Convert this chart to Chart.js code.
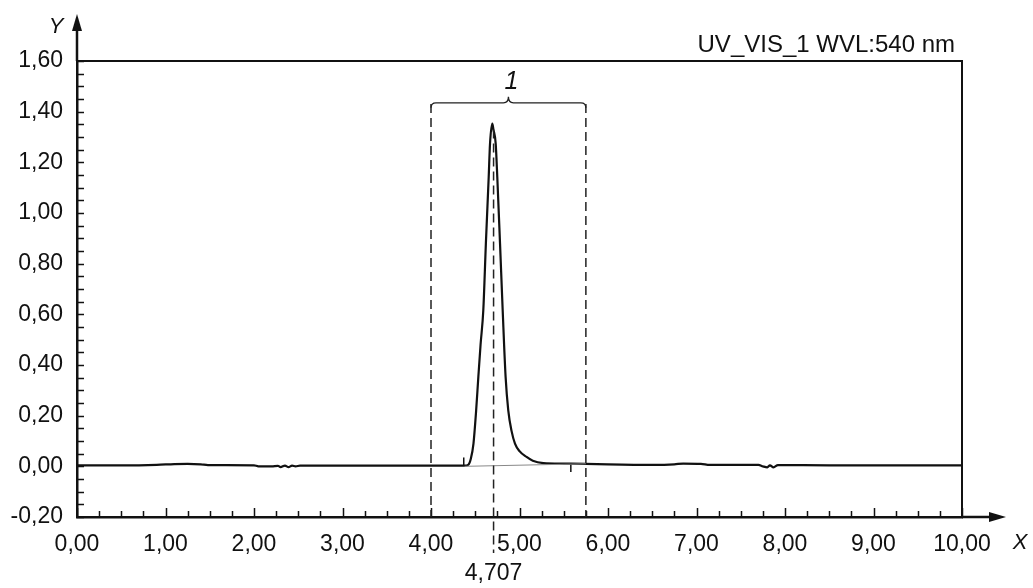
<!DOCTYPE html>
<html>
<head>
<meta charset="utf-8">
<script src="https://cdn.jsdelivr.net/npm/chart.js@4.4.1/dist/chart.umd.min.js"></script>
<style>
  html, body { margin: 0; padding: 0; background: #fff; }
  #wrap { width: 1033px; height: 588px; }
</style>
</head>
<body>
<div id="wrap"><canvas id="chrom"></canvas></div>
<script>
// ─── DATA ────────────────────────────────────────────────────────────────────

const signalX = [0.00, 0.50, 0.90, 1.10, 1.25, 1.40, 1.48, 2.00, 2.05, 2.20, 2.27, 2.30, 2.35, 2.39, 2.43, 2.47, 2.52,
  3.00, 4.00, 4.38, 4.42, 4.45, 4.48, 4.51, 4.535, 4.56, 4.591, 4.62, 4.652, 4.667, 4.693, 4.705, 4.731, 4.749, 4.78,
  4.81, 4.843, 4.873, 4.91, 4.949, 5.00, 5.08, 5.15, 5.27, 5.50, 5.75, 6.00, 6.50, 6.75, 6.85, 7.05, 7.15, 7.70, 7.75,
  7.80, 7.83, 7.87, 7.92, 8.50, 10.00];
const signalY = [0.004, 0.004, 0.006, 0.009, 0.010, 0.008, 0.005, 0.004, 0.000, 0.000, 0.002, -0.003, 0.003, -0.003, 0.003, 0.000, 0.003,
  0.003, 0.003, 0.003, 0.006, 0.030, 0.090, 0.220, 0.353, 0.480, 0.616, 0.879, 1.142, 1.274, 1.353, 1.330, 1.274, 1.142, 0.879,
  0.616, 0.353, 0.221, 0.140, 0.090, 0.060, 0.037, 0.022, 0.013, 0.011, 0.010, 0.008, 0.006, 0.008, 0.011, 0.010, 0.006, 0.006, 0.000,
  -0.004, 0.004, -0.004, 0.005, 0.004, 0.004];

// integration baseline and peak start / end marks
const baseX = [4.38, 5.75];
const baseY = [0.000, 0.010];
const startMarkX = [4.37, 4.37];
const startMarkY = [0.003, 0.035];
const endMarkX = [5.58, 5.58];
const endMarkY = [0.011, -0.022];

const retentionTime = 4.707;
const windowX = [4.00, 5.75];
const peakLabel = '1';
const traceName = 'UV_VIS_1 WVL:540 nm';

const xMin = 0, xMax = 10, xStep = 1;
const yMin = -0.2, yMax = 1.6, yStep = 0.2;

// ─── HELPERS ─────────────────────────────────────────────────────────────────

const FONT = '"Liberation Sans", Arial, sans-serif';
const fmt = v => Number(v).toFixed(2).replace('.', ',');
const zip = (xs, ys) => xs.map((x, i) => ({ x, y: ys[i] }));

const decor = {
  id: 'decor',
  afterDraw(chart) {
    const { ctx, chartArea: a, scales: { x, y } } = chart;
    ctx.save();
    ctx.strokeStyle = '#111';
    ctx.fillStyle = '#111';

    // frame top + right
    ctx.lineWidth = 2;
    ctx.beginPath();
    ctx.moveTo(a.left, a.top); ctx.lineTo(a.right, a.top); ctx.lineTo(a.right, a.bottom);
    ctx.stroke();

    // axis extensions with arrows
    ctx.lineWidth = 2.5;
    ctx.beginPath();
    ctx.moveTo(a.left, a.top); ctx.lineTo(a.left, 22);
    ctx.moveTo(a.right, a.bottom); ctx.lineTo(996, a.bottom);
    ctx.stroke();
    ctx.beginPath();
    ctx.moveTo(a.left, 14); ctx.lineTo(a.left - 5, 31); ctx.lineTo(a.left + 5, 31); ctx.closePath(); ctx.fill();
    ctx.beginPath();
    ctx.moveTo(1006, a.bottom); ctx.lineTo(989, a.bottom - 5); ctx.lineTo(989, a.bottom + 5); ctx.closePath(); ctx.fill();

    // tick marks (inside)
    ctx.lineWidth = 1.5;
    ctx.beginPath();
    for (let v = yMin; v <= yMax + 1e-9; v += 0.05) {
      const py = Math.round(y.getPixelForValue(v)) + 0.5;
      ctx.moveTo(a.left, py); ctx.lineTo(a.left + 7, py);
    }
    for (let v = xMin; v <= xMax + 1e-9; v += 0.25) {
      const px = Math.round(x.getPixelForValue(v)) + 0.5;
      const major = Math.abs(v - Math.round(v)) < 1e-6;
      ctx.moveTo(px, a.bottom); ctx.lineTo(px, a.bottom - (major ? 9 : 6));
    }
    ctx.stroke();

    // dashed window + retention time lines
    ctx.strokeStyle = '#222';
    ctx.lineWidth = 1.5;
    ctx.setLineDash([9, 5]);
    ctx.beginPath();
    const topY = y.getPixelForValue(1.43);
    windowX.forEach(v => {
      const px = x.getPixelForValue(v);
      ctx.moveTo(px, topY); ctx.lineTo(px, a.bottom);
    });
    const rt = x.getPixelForValue(retentionTime);
    ctx.moveTo(rt, y.getPixelForValue(1.33)); ctx.lineTo(rt, 553);
    ctx.stroke();
    ctx.setLineDash([]);

    // bracket over the window
    const bl = x.getPixelForValue(windowX[0]), br = x.getPixelForValue(windowX[1]);
    const bm = (bl + br) / 2;
    const by = y.getPixelForValue(1.435);
    ctx.strokeStyle = '#222';
    ctx.lineWidth = 1.3;
    ctx.beginPath();
    ctx.moveTo(bl, by + 5);
    ctx.quadraticCurveTo(bl, by, bl + 5, by);
    ctx.lineTo(bm - 5, by);
    ctx.quadraticCurveTo(bm, by, bm, by - 6);
    ctx.quadraticCurveTo(bm, by, bm + 5, by);
    ctx.lineTo(br - 5, by);
    ctx.quadraticCurveTo(br, by, br, by + 5);
    ctx.stroke();

    // texts
    ctx.fillStyle = '#111';
    ctx.textBaseline = 'alphabetic';
    ctx.textAlign = 'center';
    ctx.font = 'italic 25px ' + FONT;
    ctx.fillText(peakLabel, bm + 3, 89);
    ctx.font = 'italic 22px ' + FONT;
    ctx.fillText('Y', 56, 33);
    ctx.fillText('X', 1020, 549);
    ctx.font = '23px ' + FONT;
    ctx.fillText(String(retentionTime).replace('.', ','), rt, 580);
    ctx.font = '24px ' + FONT;
    ctx.textAlign = 'right';
    ctx.fillText(traceName, 955, 52);
    ctx.restore();
  }
};

// ─── CHART ───────────────────────────────────────────────────────────────────

const ctx = document.getElementById('chrom').getContext('2d');
new Chart(ctx, {
  type: 'scatter',
  data: {
    datasets: [
      { data: zip(baseX, baseY), showLine: true, borderColor: '#888', borderWidth: 1, pointRadius: 0 },
      { data: zip(signalX, signalY), showLine: true, borderColor: '#111', borderWidth: 2.2, pointRadius: 0,
        cubicInterpolationMode: 'monotone' },
      { data: zip(startMarkX, startMarkY), showLine: true, borderColor: '#111', borderWidth: 1.5, pointRadius: 0 },
      { data: zip(endMarkX, endMarkY), showLine: true, borderColor: '#111', borderWidth: 1.5, pointRadius: 0 }
    ]
  },
  options: {
    responsive: true,
    maintainAspectRatio: false,
    animation: false,
    layout: { padding: { left: 0, top: 61, right: 71, bottom: 0 } },
    plugins: { legend: { display: false }, tooltip: { enabled: false } },
    scales: {
      x: {
        type: 'linear', min: xMin, max: xMax,
        grid: { display: false, drawTicks: false },
        border: { display: true, color: '#111', width: 2.5 },
        ticks: { stepSize: xStep, color: '#111', padding: 14, maxRotation: 0,
          font: { family: FONT, size: 23 }, callback: v => fmt(v) },
        afterFit: s => { s.height = 71; }
      },
      y: {
        type: 'linear', min: yMin, max: yMax,
        grid: { display: false, drawTicks: false },
        border: { display: true, color: '#111', width: 2.5 },
        ticks: { stepSize: yStep, color: '#111', padding: 14,
          font: { family: FONT, size: 23 }, callback: v => fmt(v) },
        afterFit: s => { s.width = 77; }
      }
    }
  },
  plugins: [decor]
});
</script>
</body>
</html>
